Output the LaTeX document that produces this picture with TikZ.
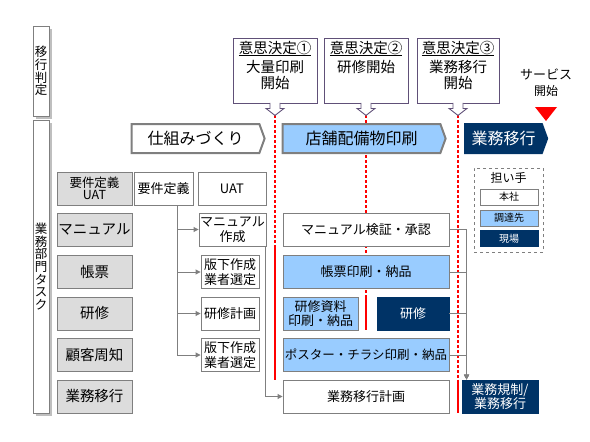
\documentclass[tikz,border=0pt]{standalone}
\usepackage{fontspec}
\setmainfont{Noto Sans CJK JP}
\usepackage{tikz}
\usetikzlibrary{shapes.symbols, arrows.meta, positioning, shadows, backgrounds}
\definecolor{navy}{RGB}{0,51,102}
\definecolor{lblue}{RGB}{153,204,255}
\definecolor{lgray}{RGB}{220,220,220}
\definecolor{bgray}{RGB}{127,127,127}
\definecolor{cdline}{RGB}{96,80,120}
\tikzset{
    block/.style={
        rectangle,
        minimum height=33pt,
        inner sep=0pt,
        align=center,
        text centered,
        draw=bgray,
        fill=white,
        line width=0.9pt,
        font=\fontsize{13}{14.5}\selectfont
    },
    labelblock/.style={
        block,
        fill=lgray,
        minimum width=75pt,
        font=\fontsize{14.5}{14.5}\selectfont
    },
    supplierblock/.style={
        block,
        fill=lblue
    },
    siteblock/.style={
        block,
        draw=navy,
        fill=navy,
        text=white
    },
    sideblock/.style={
        rectangle,
        minimum width=16pt,
        inner sep=0pt,
        align=center,
        draw=bgray,
        fill=white,
        line width=0.9pt,
        font=\fontsize{12.5}{12.6}\selectfont,
        drop shadow={shadow xshift=3pt, shadow yshift=-3pt, fill=black!25, opacity=1}
    },
    phaseblock/.style={
        signal,
        signal to=east,
        signal pointer angle=140,
        minimum height=29pt,
        inner sep=0pt,
        draw=bgray,
        line width=2pt,
        font=\fontsize{16}{16}\selectfont
    },
    decisionblock/.style={
        rectangle,
        minimum width=84pt,
        minimum height=65pt,
        draw=cdline,
        fill=white,
        line width=0.9pt
    },
    decisiontitle/.style={
        inner sep=1pt,
        font=\fontsize{14.5}{14.5}\selectfont
    },
    decisiontext/.style={
        inner sep=1pt,
        align=center,
        font=\fontsize{14.5}{16}\selectfont
    },
    pointer/.style={
        draw=cdline,
        fill=white,
        line width=0.9pt
    },
    legendblock/.style={
        block,
        minimum width=58pt,
        minimum height=16pt,
        font=\fontsize{10}{10}\selectfont
    },
    arrow/.style={
        draw=bgray,
        line width=0.9pt,
        -{Triangle[length=5pt, width=5pt]}
    },
    reddots/.style={
        red,
        line width=2.5pt,
        dash pattern=on 3pt off 2pt
    },
    redline/.style={
        red,
        line width=2.5pt
    }
}

\begin{document}
\begin{tikzpicture}[x=1pt, y=-1pt]
\useasboundingbox (0,0) rectangle (590,442);

% Side labels
\node (judge) [sideblock, minimum height=90pt] at (41,71) {移\\行\\判\\定};
\node (tasks) [sideblock, minimum height=293pt] at (41,266.5) {業\\務\\部\\門\\タ\\ス\\ク};

% Decisions
\node (cd1) [decisionblock] at (275,70.5) {};
\node (cd2) [decisionblock] at (366,70.5) {};
\node (cd3) [decisionblock, minimum width=82pt] at (458,70.5) {};
\node (cdt1) [decisiontitle, below=2pt of cd1.north] {\underline{意思決定①}};
\node (cdt2) [decisiontitle, below=2pt of cd2.north] {\underline{意思決定②}};
\node (cdt3) [decisiontitle, below=2pt of cd3.north] {\underline{意思決定③}};
\node (cdb1) [decisiontext, below=2pt of cdt1] {大量印刷\\開始};
\node (cdb2) [decisiontext, below=2pt of cdt2] {研修開始};
\node (cdb3) [decisiontext, below=2pt of cdt3] {業務移行\\開始};
\draw[pointer] ([xshift=-5pt, yshift=0.5pt]cd1.south) -- ++(0,5.5) -- ++(-4,0) -- ++(9,7) -- ++(9,-7) -- ++(-4,0) -- ++(0,-5.5);
\draw[pointer] ([xshift=-5pt, yshift=0.5pt]cd2.south) -- ++(0,5.5) -- ++(-4,0) -- ++(9,7) -- ++(9,-7) -- ++(-4,0) -- ++(0,-5.5);
\draw[pointer] ([xshift=-5pt, yshift=0.5pt]cd3.south) -- ++(0,5.5) -- ++(-4,0) -- ++(9,7) -- ++(9,-7) -- ++(-4,0) -- ++(0,-5.5);
\coordinate (tip1) at ([yshift=-12pt]cd1.south);
\coordinate (tip2) at ([yshift=-12pt]cd2.south);
\coordinate (tip3) at ([yshift=-12pt]cd3.south);

% Service start
\node (svc) [align=center, inner sep=0pt, font=\fontsize{13}{16}\selectfont] at (546,83) {サービス\\{\fontsize{12}{12}\selectfont 開始}};
\fill[red] (535,107) -- (557,107) -- (546,121) -- cycle;

% Phases
\node (ph1) [phaseblock, fill=white, minimum width=133pt] at (195.5,138.5) {仕組みづくり};
\node (ph2) [phaseblock, fill=lblue, minimum width=163pt] at (361.5,138.5) {店舗配備物印刷};
\node (ph3) [phaseblock, fill=navy, draw=navy, text=white, minimum width=82pt] at (503.5,138.5) {業務移行};

% Task labels
\node (lreq) [labelblock, font=\fontsize{12.5}{12.5}\selectfont] at (94.5,188.5) {要件定義\\UAT};
\node (lman) [labelblock] at (94.5,229.5) {マニュアル};
\node (lform) [labelblock] at (94.5,272) {帳票};
\node (ltrain) [labelblock] at (94.5,313.5) {研修};
\node (lnotice) [labelblock] at (94.5,355) {顧客周知};
\node (lmove) [labelblock] at (94.5,396.5) {業務移行};

% Preparation
\node (req) [block, minimum width=59pt] at (163.5,188.5) {要件定義};
\node (uat) [block, minimum width=68pt] at (232,188.5) {UAT};
\node (mandraft) [block, minimum width=67pt] at (232.5,229.5) {マニュアル\\作成};
\node (formsel) [block, minimum width=58pt] at (230,272) {版下作成\\業者選定};
\node (trainplan) [block, minimum width=58pt] at (230,313.5) {研修計画};
\node (postersel) [block, minimum width=58pt] at (230,355) {版下作成\\業者選定};

% Printing and rollout
\node (manok) [block, minimum width=166pt] at (366,229.5) {マニュアル検証・承認};
\node (formprint) [supplierblock, minimum width=166pt] at (366,272) {帳票印刷・納品};
\node (trainprint) [supplierblock, minimum width=75pt] at (320.5,313.5) {研修資料\\印刷・納品};
\node (training) [siteblock, minimum width=72pt] at (413,313.5) {研修};
\node (posterprint) [supplierblock, minimum width=166pt, font=\fontsize{12.5}{12.5}\selectfont] at (366,355) {ポスター・チラシ印刷・納品};
\node (moveplan) [block, minimum width=166pt] at (366,396.5) {業務移行計画};
\node (moveops) [siteblock, minimum width=76pt] at (500,396.5) {業務規制/\\業務移行};

% Legend
\node (legend) [rectangle, draw=bgray, dashed, line width=0.9pt, minimum width=69pt, minimum height=84pt] at (508.5,210) {};
\node (legtitle) [below=1pt of legend.north, font=\fontsize{12}{12}\selectfont] {担い手};
\node (leghq) [legendblock] at (509,197) {本社};
\node (legsup) [legendblock, fill=lblue] at (509,218) {調達先};
\node (legsite) [legendblock, fill=navy, draw=navy, text=white] at (509,238.5) {現場};

% Arrows
\draw[arrow] ([xshift=14pt]req.south) |- (mandraft.west);
\draw[arrow] ([xshift=14pt]req.south) |- (formsel.west);
\draw[arrow] ([xshift=14pt]req.south) |- (trainplan.west);
\draw[arrow] ([xshift=14pt]req.south) |- (postersel.west);
\draw[arrow] ([xshift=-1.5pt]mandraft.south east) |- (moveplan.west);
\draw[arrow] (manok.east) -| ([xshift=5pt]moveops.north west);
\draw[arrow] (formprint.east) -| ([xshift=5pt]moveops.north west);
\draw[arrow] (training.east) -| ([xshift=5pt]moveops.north west);
\draw[arrow] (posterprint.east) -| ([xshift=5pt]moveops.north west);

% Milestones
\begin{pgfonlayer}{background}
\draw[reddots] (tip1) -- (tip1 |- mandraft.south);
\draw[redline] (tip1 |- mandraft.south) -- (tip1 |- moveplan.north);
\draw[reddots] (tip2) -- (tip2 |- trainprint.north);
\draw[redline] (tip2 |- trainprint.north) -- (tip2 |- trainprint.south);
\draw[reddots] (tip3) -- (tip3 |- moveplan.north);
\draw[redline] (tip3 |- moveplan.north) -- (tip3 |- moveplan.south);
\end{pgfonlayer}

\end{tikzpicture}
\end{document}
